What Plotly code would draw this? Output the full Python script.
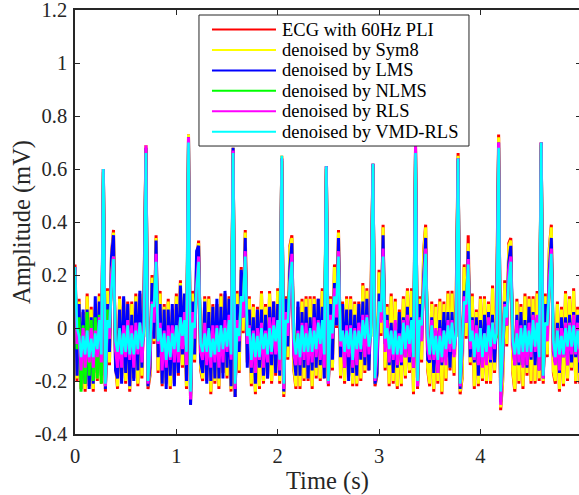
import numpy as np
import plotly.graph_objects as go

# Sampling: one value every 0.02 s, 250 samples (0 .. 4.98 s)
fs = 50
n_samples = 250

# All amplitudes below are in units of 0.01 mV
ecg_pli = [
    24, -20, 11, -23, 6, -24, 13, -22, 8, -24,
    8, -20, 13, -21, 60, -24, 15, -14, 28, 37,
    -14, -23, 12, -19, 11, -21, 10, -24, 10, -19,
    13, -22, 13, -19, 12, 69, -23, -18, 20, -6,
    35, -17, 14, -22, 9, -21, 11, -23, 7, -21,
    13, -18, 18, -15, 12, -23, 73, -29, 14, -13,
    25, 33, -16, -20, 12, -20, 12, -25, 9, -21,
    9, -23, 13, -17, 13, -19, 12, -24, 68, -26,
    14, -17, 23, -2, 37, -13, 12, -22, 9, -25,
    8, -23, 14, -21, 9, -19, 14, -21, 10, -18,
    15, -21, 65, -26, 12, -12, 31, 35, -16, -23,
    8, -23, 11, -20, 12, -20, 12, -23, 12, -19,
    11, -20, 15, -19, 61, -22, 12, -16, 24, 0,
    37, -19, 10, -21, 12, -18, 12, -22, 10, -22,
    10, -20, 17, -17, 15, -16, 12, 62, -22, -18,
    22, -3, 39, -16, 9, -22, 13, -21, 11, -23,
    7, -22, 12, -19, 15, -17, 15, -25, 69, -23,
    12, -13, 29, 39, -16, -22, 10, -24, 9, -21,
    11, -25, 10, -20, 14, -16, 14, -18, 9, 66,
    -25, -19, 24, -4, 35, -14, 13, -23, 7, -22,
    12, -20, 12, -21, 10, -21, 16, -17, 10, 73,
    -31, -20, 18, -7, 32, 34, -17, -24, 11, -21,
    9, -23, 13, -18, 12, -21, 12, -21, 14, -20,
    70, -21, 13, -11, 30, 39, -17, -21, 10, -24,
    8, -22, 14, -20, 12, -16, 15, -21, 8, -21,
]
den_sym8 = [
    23, -19, 10, -22, 5, -23, 12, -21, 7, -23,
    7, -19, 12, -20, 60, -23, 14, -13, 27, 36,
    -13, -22, 11, -18, 10, -20, 9, -23, 9, -18,
    12, -21, 12, -18, 11, 69, -22, -17, 19, -5,
    34, -16, 13, -21, 8, -20, 10, -22, 6, -20,
    12, -17, 17, -14, 11, -22, 73, -28, 13, -12,
    24, 32, -15, -19, 11, -19, 11, -24, 8, -20,
    8, -22, 12, -16, 12, -18, 11, -23, 68, -25,
    13, -16, 22, -1, 36, -12, 11, -21, 8, -24,
    7, -22, 13, -20, 8, -18, 13, -20, 9, -17,
    14, -20, 65, -25, 11, -11, 30, 34, -15, -22,
    7, -22, 10, -19, 11, -19, 11, -22, 11, -18,
    10, -19, 14, -18, 61, -21, 11, -15, 23, 1,
    36, -18, 9, -20, 11, -17, 11, -21, 9, -21,
    9, -19, 16, -16, 14, -15, 11, 62, -21, -17,
    21, -2, 38, -15, 8, -21, 12, -20, 10, -22,
    6, -21, 11, -18, 14, -16, 14, -24, 69, -22,
    11, -12, 28, 38, -15, -21, 9, -23, 8, -20,
    10, -24, 9, -19, 13, -15, 13, -17, 8, 65,
    -24, -18, 23, -3, 32, -13, 12, -22, 6, -21,
    11, -19, 11, -20, 9, -20, 15, -16, 9, 72,
    -30, -19, 17, -6, 31, 33, -16, -23, 10, -20,
    8, -22, 12, -17, 11, -20, 11, -20, 13, -19,
    70, -20, 12, -10, 29, 38, -16, -20, 9, -23,
    7, -21, 13, -19, 11, -15, 14, -20, 7, -20,
]
den_lms = [
    23, -18, 9, -18, 7, -21, 7, -23, 4, -21,
    12, -17, 10, -18, 60, -23, 9, -9, 27, 35,
    -16, -19, 7, -21, 12, -17, 9, -22, 5, -20,
    10, -16, 14, -15, 9, 68, -22, -15, 17, -4,
    33, -11, 9, -21, 7, -23, 7, -18, 9, -22,
    9, -17, 16, -10, 13, -20, 72, -29, 10, -10,
    29, 31, -13, -17, 10, -21, 6, -20, 8, -19,
    11, -19, 8, -19, 14, -15, 11, -22, 68, -26,
    9, -9, 22, 4, 34, -15, 7, -17, 4, -21,
    7, -15, 7, -18, 5, -19, 8, -14, 10, -17,
    9, -18, 64, -24, 11, -7, 23, 32, -10, -18,
    10, -18, 6, -15, 8, -19, 4, -16, 9, -15,
    11, -14, 8, -19, 61, -21, 9, -12, 17, 1,
    34, -11, 9, -15, 7, -20, 7, -17, 5, -18,
    9, -12, 10, -14, 11, -16, 6, 62, -21, -17,
    13, 3, 35, -6, 5, -14, 2, -17, 2, -15,
    6, -14, 4, -11, 8, -13, 4, -15, 68, -22,
    9, -4, 19, 34, -12, -13, 4, -17, -1, -17,
    3, -14, 6, -11, 6, -15, 6, -10, 1, 64,
    -23, -8, 14, 2, 29, -11, 4, -13, 4, -18,
    3, -14, 5, -11, 6, -13, 5, -13, 1, 70,
    -28, -12, 10, 1, 25, 31, -6, -14, 5, -14,
    6, -14, 3, -15, 8, -12, 6, -14, 4, -16,
    70, -19, 9, -2, 22, 34, -9, -13, 2, -17,
    4, -11, 4, -14, 5, -13, 6, -11, 5, -17,
]
den_nlms = [
    22, -8, 4, -24, 1, -21, 6, -18, 3, -20,
    4, -19, 5, -21, 59, -22, 7, -4, 21, 27,
    -9, -8, -2, -9, -2, -7, -2, -9, -3, -8,
    -1, -6, 1, -6, -3, 67, -20, -8, 9, 8,
    25, -3, -2, -9, -3, -10, -4, -9, -3, -8,
    -1, -6, 3, -2, 1, -9, 71, -25, 2, 0,
    15, 25, -3, -8, -3, -9, -2, -9, -4, -9,
    -2, -8, -1, -7, 0, -5, 0, -9, 66, -22,
    0, -3, 12, 10, 27, -3, -2, -9, -3, -10,
    -3, -9, -2, -8, -3, -8, -1, -7, 0, -5,
    1, -9, 63, -22, 3, 2, 17, 25, -3, -8,
    -2, -9, -2, -8, -3, -9, -2, -7, -1, -7,
    0, -5, 1, -9, 60, -20, 3, -2, 12, 9,
    27, -3, -2, -8, -3, -8, -2, -9, -2, -7,
    -1, -6, 1, -4, 3, -5, -3, 61, -19, -5,
    10, 6, 27, -3, -2, -8, -3, -9, -2, -8,
    -3, -8, -1, -7, 0, -6, 1, -9, 67, -21,
    3, 1, 17, 28, -3, -8, -2, -9, -4, -10,
    -3, -9, -2, -7, -1, -6, 0, -5, -3, 63,
    -21, -7, 10, 9, 24, -3, -2, -9, -3, -9,
    -2, -8, -3, -8, -1, -7, 0, -5, -3, 68,
    -26, -8, 8, 4, 18, 25, -3, -8, -2, -9,
    -2, -8, -1, -8, -1, -7, 0, -6, 1, -9,
    69, -18, 2, 1, 17, 28, -3, -8, -2, -9,
    -3, -8, -2, -7, 0, -5, 0, -7, -2, -8,
]
den_rls = [
    23, -6, -3, -16, 0, -15, -1, -13, 0, -15,
    -1, -11, 4, -13, 60, -22, 2, -4, 20, 27,
    -8, -15, -1, -15, 1, -11, 3, -12, 1, -15,
    2, -10, 2, -13, 1, 69, -21, -11, 10, 2,
    28, -6, 2, -16, -1, -15, 1, -12, 1, -13,
    1, -13, 4, -8, 6, -14, 72, -27, 6, -4,
    16, 27, -9, -12, 2, -14, -1, -15, 1, -13,
    1, -15, 0, -13, 3, -9, 5, -12, 67, -23,
    3, -5, 12, 4, 29, -6, 1, -15, -1, -17,
    0, -12, 2, -15, -1, -13, 4, -10, 4, -10,
    3, -16, 64, -23, 6, -3, 17, 28, -10, -14,
    -1, -14, 2, -12, 2, -14, -1, -13, 4, -11,
    3, -12, 2, -15, 61, -21, 5, -4, 15, 4,
    29, -7, -1, -15, 1, -11, 1, -15, 0, -14,
    2, -9, 5, -11, 5, -10, 2, 62, -20, -10,
    10, 2, 30, -9, 3, -13, -1, -12, 3, -14,
    -2, -13, 3, -11, 5, -11, 2, -15, 69, -22,
    4, -5, 16, 30, -8, -12, 3, -12, 0, -17,
    0, -13, -1, -14, 3, -9, 3, -11, -1, 64,
    -22, -8, 12, 2, 26, -8, 3, -12, 1, -14,
    0, -15, -2, -14, 4, -12, 2, -8, 2, 70,
    -29, -11, 9, 1, 22, 27, -6, -14, 3, -13,
    1, -15, 0, -14, 2, -11, 5, -9, 5, -16,
    70, -19, 2, -5, 19, 30, -8, -14, 0, -16,
    0, -11, 2, -14, 2, -10, 5, -10, 2, -13,
]
den_vmd_rls = [
    23, 0, -3, -11, -3, -10, -1, -11, -4, -11,
    -2, -8, 3, -10, 60, -21, 3, 0, 15, 26,
    -5, -9, 0, -10, -2, -9, 1, -10, -2, -10,
    -1, -8, 2, -7, -1, 66, -20, -8, 9, 8,
    25, -5, 0, -9, -2, -12, -3, -11, -2, -8,
    1, -9, 4, -3, 3, -9, 70, -24, 2, 0,
    15, 25, -6, -9, -2, -9, 0, -11, -4, -10,
    0, -9, 1, -8, 0, -7, 3, -10, 66, -21,
    0, -3, 12, 10, 27, -3, 0, -12, -2, -11,
    -3, -11, 0, -8, -2, -10, 0, -9, 1, -5,
    3, -12, 65, -21, 3, 2, 17, 25, -4, -10,
    -2, -11, 1, -9, -2, -9, 0, -9, -1, -8,
    2, -6, 3, -10, 61, -20, 3, -2, 12, 9,
    27, -5, -1, -9, -1, -8, 0, -12, -1, -8,
    -1, -8, 3, -4, 4, -7, -2, 62, -19, -5,
    10, 6, 27, -4, 0, -8, -1, -10, -1, -10,
    -3, -10, 2, -8, 1, -6, 3, -11, 66, -20,
    3, 1, 17, 28, -3, -10, 1, -10, -3, -12,
    -3, -11, -1, -8, 1, -6, 2, -8, -2, 64,
    -21, -7, 10, 9, 24, -5, -1, -11, -2, -9,
    0, -11, -2, -9, 1, -7, 2, -6, -2, 68,
    -24, -8, 8, 4, 18, 25, -5, -10, -2, -10,
    0, -9, 1, -9, -1, -9, 3, -7, 2, -11,
    70, -18, 2, 1, 17, 28, -5, -11, -1, -10,
    -3, -10, 0, -7, 1, -7, 1, -9, -1, -8,
]

series_names = ["ECG with 60Hz PLI", "denoised by Sym8", "denoised by LMS",
                "denoised by NLMS", "denoised by RLS", "denoised by VMD-RLS"]
series_values = [ecg_pli, den_sym8, den_lms, den_nlms, den_rls, den_vmd_rls]
series_colors = ["#FF0000", "#FFFF00", "#0000FF", "#00FF00", "#FF00FF", "#00FFFF"]
series_widths = [3, 3, 3, 3, 3, 2.5]

y_ticks = [-0.4, -0.2, 0, 0.2, 0.4, 0.6, 0.8, 1, 1.2]
y_ticktext = ["-0.4", "-0.2", "0", "0.2", "0.4", "0.6", "0.8", "1", "1.2"]
x_ticks = [0, 1, 2, 3, 4, 5]
x_ticktext = ["0", "1", "2", "3", "4", "5"]

for v in series_values:
    assert len(v) == n_samples, len(v)

t = np.arange(n_samples) / fs

FONT = '"Liberation Serif", "Times New Roman", serif'
AX = "#262626"

fig = go.Figure()
for name, vals, color, w in zip(series_names, series_values, series_colors, series_widths):
    fig.add_trace(go.Scatter(
        x=t, y=np.array(vals, dtype=float) / 100.0, mode="lines", name=name,
        line=dict(color=color, width=w), showlegend=False, hoverinfo="skip"))

# empty trace to carry the mirrored (top/right) tick axes
fig.add_trace(go.Scatter(x=[], y=[], xaxis="x2", yaxis="y2",
                         showlegend=False, hoverinfo="skip"))

x_max = 4.973
y_range = [-0.4, 1.2001]
fig.update_layout(
    width=579, height=495,
    margin=dict(l=75, r=0, t=10, b=61, pad=0),
    paper_bgcolor="white", plot_bgcolor="white",
    font=dict(family=FONT, color=AX),
    xaxis=dict(range=[0, x_max], tickvals=x_ticks, ticktext=x_ticktext,
               ticks="inside", ticklen=5, tickwidth=1.2, tickcolor=AX,
               showline=True, linecolor=AX, linewidth=1.5,
               showgrid=False, zeroline=False,
               tickfont=dict(size=20.5, family=FONT, color=AX),
               ticklabelstandoff=3, ticklabeloverflow="allow"),
    yaxis=dict(range=y_range, tickvals=y_ticks, ticktext=y_ticktext,
               ticks="inside", ticklen=5, tickwidth=1.2, tickcolor=AX,
               showline=True, linecolor=AX, linewidth=1.5,
               showgrid=False, zeroline=False,
               tickfont=dict(size=20.5, family=FONT, color=AX),
               ticklabelstandoff=2, ticklabeloverflow="allow"),
    xaxis2=dict(range=[0, x_max], overlaying="x", side="top", anchor="y",
                tickvals=x_ticks, ticks="inside", ticklen=5, tickwidth=1.2,
                tickcolor=AX, showline=True, linecolor=AX, linewidth=1.5,
                showticklabels=False, showgrid=False, zeroline=False),
    yaxis2=dict(range=y_range, overlaying="y", side="right", anchor="x",
                tickvals=y_ticks, ticks="inside", ticklen=3, tickwidth=1.2,
                tickcolor=AX, showline=False, showticklabels=False,
                showgrid=False, zeroline=False),
)

# Legend box drawn in plot-area (paper) coordinates
shapes = [dict(type="rect", xref="paper", yref="paper", x0=0.246, x1=0.7817,
               y0=0.6792, y1=0.9882, line=dict(color=AX, width=1),
               fillcolor="white", layer="above")]
annotations = [
    dict(xref="paper", yref="paper", x=0.5, y=-0.1120, text="Time (s)",
         showarrow=False, xanchor="center", yanchor="middle",
         font=dict(size=24.5, family=FONT, color=AX)),
    dict(xref="paper", yref="paper", x=-0.1052, y=0.5, text="Amplitude (mV)",
         showarrow=False, xanchor="center", yanchor="middle", textangle=-90,
         font=dict(size=24.5, family=FONT, color=AX)),
]
row_y = [0.9540, 0.9058, 0.8576, 0.8094, 0.7612, 0.7130]
for name, color, yy in zip(series_names, series_colors, row_y):
    shapes.append(dict(type="line", xref="paper", yref="paper", x0=0.2718, x1=0.3988,
                       y0=yy, y1=yy, line=dict(color=color, width=2), layer="above"))
    annotations.append(dict(xref="paper", yref="paper", x=0.4067, y=yy, text=name,
                            showarrow=False, xanchor="left", yanchor="middle",
                            font=dict(size=18.5, family=FONT, color="black")))
fig.update_layout(shapes=shapes, annotations=annotations)

fig.write_html("out.html")
